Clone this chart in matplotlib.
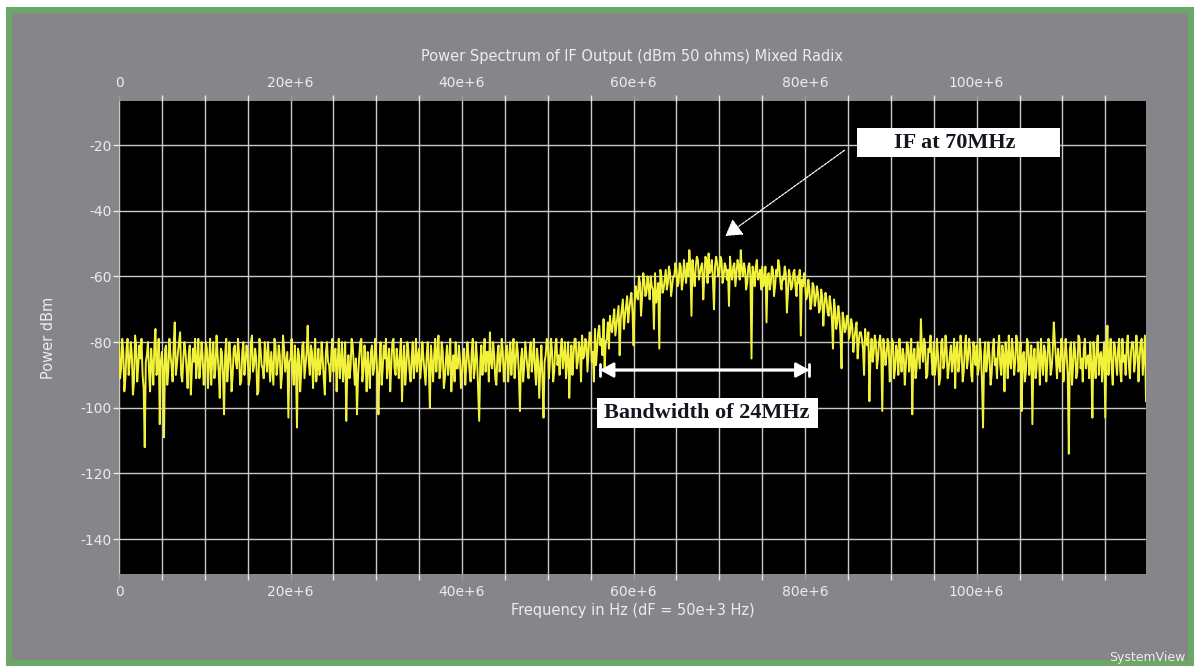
import matplotlib
matplotlib.use("Agg")
import matplotlib.pyplot as plt
from matplotlib.patches import Rectangle
from matplotlib.ticker import FixedLocator, MultipleLocator
import numpy as np

# trace: 0.125 MHz spacing, stored as the samples on the
# 0.25 MHz grid plus the samples halfway between them (rows of 5 MHz)
step_mhz = 0.125
power_grid_dbm = [
    -80, -88, -83, -91, -79, -86, -84, -92, -81, -87, -85, -90, -112, -84, -89, -82, -93, -76, -88, -105,
    -83, -109, -81, -89, -84, -92, -74, -87, -80, -90, -85, -83, -94, -81, -88, -86, -91, -79, -87, -84,
    -89, -82, -86, -93, -80, -88, -84, -97, -83, -102, -79, -87, -85, -90, -81, -88, -84, -92, -80, -86,
    -84, -91, -78, -87, -85, -95, -82, -88, -80, -89, -86, -83, -93, -81, -87, -84, -90, -82, -86, -103,
    -85, -88, -81, -106, -84, -89, -80, -87, -75, -90, -83, -86, -92, -82, -88, -85, -96, -80, -87, -84,
    -89, -82, -86, -91, -80, -87, -104, -84, -88, -81, -93, -102, -85, -79, -89, -86, -83, -94, -81, -88,
    -84, -102, -80, -88, -85, -91, -82, -87, -79, -90, -86, -84, -98, -81, -88, -83, -92, -80, -86, -89,
    -82, -87, -85, -93, -80, -100, -86, -84, -89, -78, -88, -83, -91, -81, -86, -95, -84, -80, -88, -85,
    -90, -82, -87, -84, -92, -79, -88, -85, -104, -81, -86, -89, -83, -77, -88, -84, -93, -81, -86, -83,
    -88, -81, -85, -90, -79, -86, -83, -101, -82, -87, -84, -91, -80, -85, -88, -82, -97, -81, -103, -84,
    -80, -86, -83, -89, -79, -84, -82, -88, -80, -85, -97, -81, -84, -79, -86, -82, -78, -84, -80, -83,
    -78, -83, -76, -82, -75, -79, -73, -80, -74, -72, -77, -70, -75, -69, -73, -67, -72, -66, -70, -65,
    -81, -63, -67, -62, -66, -61, -65, -63, -60, -64, -59, -66, -82, -60, -64, -58, -62, -59, -63, -60,
    -58, -62, -57, -61, -59, -56, -52, -72, -60, -57, -55, -59, -56, -60, -55, -53, -58, -61, -57, -56,
    -59, -55, -60, -57, -58, -54, -61, -56, -59, -57, -52, -60, -58, -62, -56, -85, -59, -57, -61, -58,
    -57, -61, -74, -59, -62, -58, -63, -60, -57, -64, -61, -59, -65, -60, -63, -58, -66, -62, -78, -63,
    -62, -66, -64, -68, -63, -67, -65, -70, -66, -69, -67, -72, -69, -82, -70, -74, -72, -88, -73, -76,
    -72, -77, -75, -79, -74, -80, -77, -82, -76, -81, -98, -79, -83, -80, -85, -78, -101, -82, -84, -81,
    -86, -80, -88, -83, -79, -89, -84, -87, -81, -85, -102, -82, -88, -84, -73, -86, -81, -90, -83, -85,
    -80, -87, -84, -91, -79, -86, -82, -88, -81, -85, -94, -80, -86, -83, -89, -78, -85, -82, -92, -84,
    -81, -88, -83, -106, -80, -86, -84, -90, -79, -85, -82, -87, -81, -95, -84, -78, -88, -83, -86, -80,
    -87, -101, -83, -89, -80, -86, -105, -82, -88, -84, -79, -90, -83, -86, -81, -88, -74, -85, -82, -89,
    -81, -86, -84, -114, -80, -87, -83, -89, -79, -85, -82, -88, -84, -80, -103, -86, -81, -90, -83, -85,
    -103, -75, -84, -88, -80, -86, -82, -89, -79, -84, -81, -87, -83, -80, -86, -82, -85, -79, -84, -98,
]
power_mid_dbm = [
    -91, -79, -95, -82, -90, -80, -96, -78, -92, -81, -79, -94, -86, -80, -95, -87, -81, -90, -79, -86,
    -88, -82, -93, -79, -87, -81, -90, -83, -77, -92, -80, -88, -84, -96, -82, -79, -86, -91, -80, -93,
    -80, -94, -79, -85, -91, -78, -89, -82, -90, -84, -92, -80, -95, -82, -86, -79, -93, -83, -90, -81,
    -93, -80, -89, -82, -96, -79, -87, -91, -84, -80, -92, -88, -79, -90, -81, -94, -78, -89, -83, -86,
    -79, -93, -87, -82, -95, -81, -91, -83, -86, -81, -94, -79, -88, -90, -80, -91, -83, -86, -92, -79,
    -83, -95, -79, -86, -92, -80, -88, -91, -79, -87, -85, -90, -80, -92, -81, -95, -88, -83, -90, -79,
    -90, -86, -93, -81, -79, -86, -95, -80, -88, -82, -91, -79, -87, -93, -80, -89, -85, -91, -79, -84,
    -91, -80, -89, -84, -88, -81, -92, -79, -83, -91, -80, -94, -85, -90, -79, -87, -92, -88, -81, -94,
    -84, -93, -80, -89, -83, -91, -80, -95, -86, -90, -79, -83, -92, -86, -80, -91, -84, -89, -79, -92,
    -82, -92, -80, -84, -91, -80, -90, -85, -92, -80, -88, -83, -89, -79, -93, -86, -88, -91, -86, -79,
    -91, -79, -92, -81, -87, -90, -79, -84, -91, -80, -86, -90, -79, -88, -80, -92, -85, -79, -89, -77,
    -86, -92, -87, -77, -81, -84, -88, -79, -82, -76, -73, -78, -72, -84, -70, -76, -69, -74, -67, -71,
    -68, -66, -60, -72, -59, -66, -60, -67, -63, -76, -68, -62, -58, -65, -61, -64, -57, -66, -60, -56,
    -63, -56, -64, -55, -62, -60, -57, -55, -63, -54, -61, -57, -67, -54, -62, -59, -55, -70, -54, -60,
    -54, -62, -56, -61, -69, -59, -57, -63, -55, -61, -58, -56, -64, -57, -60, -57, -63, -55, -60, -64,
    -63, -57, -60, -64, -57, -66, -58, -55, -62, -60, -57, -71, -58, -64, -59, -63, -60, -58, -61, -59,
    -67, -61, -70, -62, -69, -63, -71, -64, -75, -65, -71, -66, -73, -67, -76, -69, -78, -71, -77, -72,
    -79, -73, -83, -76, -85, -77, -79, -90, -80, -77, -84, -86, -78, -88, -80, -83, -79, -87, -79, -92,
    -79, -91, -81, -90, -85, -82, -93, -80, -89, -79, -84, -91, -80, -88, -82, -79, -91, -82, -78, -90,
    -90, -79, -93, -80, -88, -78, -91, -84, -89, -79, -82, -89, -78, -92, -81, -88, -79, -90, -80, -87,
    -90, -79, -92, -84, -89, -80, -93, -82, -87, -91, -78, -90, -84, -80, -91, -86, -79, -90, -78, -89,
    -80, -84, -92, -79, -90, -81, -85, -91, -80, -93, -86, -81, -92, -79, -90, -83, -80, -91, -87, -79,
    -92, -79, -90, -82, -93, -80, -91, -78, -88, -92, -79, -85, -91, -87, -80, -91, -78, -84, -92, -80,
    -84, -90, -79, -93, -81, -90, -79, -92, -86, -90, -78, -91, -80, -89, -78, -92, -80, -90, -78, -85,
]
power_dbm = np.empty(len(power_grid_dbm) + len(power_mid_dbm))
power_dbm[0::2] = power_grid_dbm
power_dbm[1::2] = power_mid_dbm
freq_hz = np.arange(len(power_dbm)) * step_mhz * 1e6

x_ticks = [0, 20e6, 40e6, 60e6, 80e6, 100e6]
x_ticklabels = ["0", "20e+6", "40e+6", "60e+6", "80e+6", "100e+6"]
y_ticks = [-140, -120, -100, -80, -60, -40, -20]

bg = "#868589"
fg = "#ececec"

fig = plt.figure(figsize=(11.94, 6.66), dpi=100, facecolor="white")
# grey panel with the green frame, kept behind the axes
fig.patches.append(Rectangle((8.5 / 1194, 3 / 666), 1182.5 / 1194, 653 / 666,
                             transform=fig.transFigure, facecolor=bg,
                             edgecolor="#6aa866", linewidth=4.3, zorder=-10))

ax = fig.add_axes([119 / 1194, 1 - 574 / 666, 1027 / 1194, 473 / 666])
ax.set_zorder(1)
ax.set_facecolor("black")
ax.plot(freq_hz, power_dbm, color="#f2f23a", lw=1.4, zorder=3)

ax.set_xlim(0, 119.75e6)
ax.set_ylim(-150.6, -6.6)
ax.xaxis.set_major_locator(FixedLocator(x_ticks))
ax.set_xticklabels(x_ticklabels)
ax.xaxis.set_minor_locator(MultipleLocator(5e6))
ax.yaxis.set_major_locator(FixedLocator(y_ticks))
ax.set_yticklabels([str(v) for v in y_ticks])

ax.grid(True, which="both", axis="x", color="#c9c9c9", lw=1.0, zorder=1)
ax.grid(True, which="major", axis="y", color="#c9c9c9", lw=1.0, zorder=1)
ax.set_axisbelow(True)
for s in ax.spines.values():
    s.set_visible(False)

ax.tick_params(axis="x", which="both", top=True, bottom=True, labeltop=True,
               direction="out", length=4, width=1, colors=fg, labelsize=10,
               pad=4)
ax.tick_params(axis="x", which="major", color="#7fae7f")
ax.tick_params(axis="y", which="major", direction="out", length=4, width=1,
               colors=fg, labelsize=10, pad=1)

ax.set_xlabel("Frequency in Hz (dF = 50e+3 Hz)", color=fg, fontsize=10.5,
              labelpad=3)
ax.set_ylabel("Power dBm", color=fg, fontsize=10.5, labelpad=18)
fig.text(632 / 1194, 1 - 57 / 666, "Power Spectrum of IF Output (dBm 50 ohms) Mixed Radix",
         ha="center", va="center", color=fg, fontsize=10.5)
fig.text(1185 / 1194, 1 - 657 / 666, "SystemView", ha="right", va="center",
         color=fg, fontsize=9)

# annotation: IF marker
ax.add_patch(Rectangle((86.1e6, -23.7), 23.6e6, 8.8, facecolor="white",
                       edgecolor="none", zorder=5))
ax.text(97.5e6, -19.3, "IF at 70MHz", ha="center", va="center",
        family="Liberation Serif", fontweight="bold", fontsize=16,
        color="#15151f", zorder=6)
ax.annotate("", xy=(70.7e6, -47.7), xytext=(84.6e6, -21.6),
            arrowprops=dict(arrowstyle="-|>,head_length=1.0,head_width=0.6",
                            color="white", lw=0.9, ls=(0, (2, 1)),
                            shrinkA=0, shrinkB=0),
            zorder=6)

# annotation: bandwidth
ax.annotate("", xy=(56.1e6, -88.5), xytext=(80.5e6, -88.5),
            arrowprops=dict(arrowstyle="<|-|>,head_length=0.8,head_width=0.45",
                            color="white", lw=2.0, shrinkA=0, shrinkB=0),
            zorder=6)
ax.annotate("", xy=(56.1e6, -88.5), xytext=(80.5e6, -88.5),
            arrowprops=dict(arrowstyle="|-|,widthA=0.45,widthB=0.45",
                            color="white", lw=2.0, shrinkA=0, shrinkB=0),
            zorder=6)
ax.add_patch(Rectangle((55.7e6, -106.2), 25.8e6, 9.2, facecolor="white",
                       edgecolor="none", zorder=5))
ax.text(68.5e6, -101.7, "Bandwidth of 24MHz", ha="center", va="center",
        family="Liberation Serif", fontweight="bold", fontsize=16,
        color="#15151f", zorder=6)

fig.savefig("out.png", dpi=100, facecolor=fig.get_facecolor())
